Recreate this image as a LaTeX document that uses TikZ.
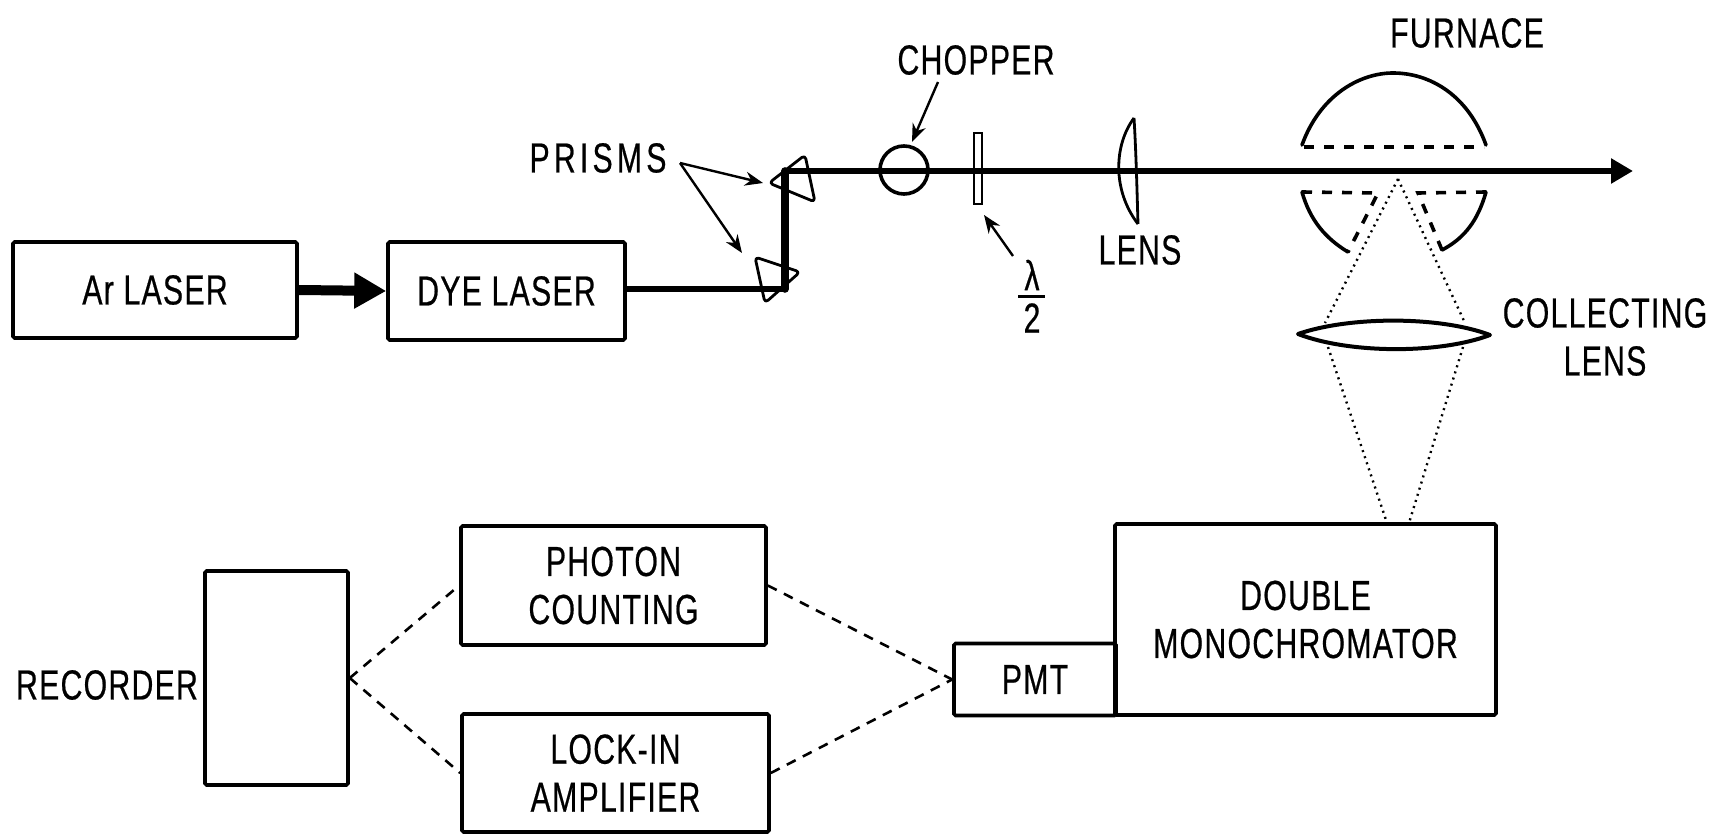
\documentclass[tikz,border=0pt]{standalone}
\usepackage{fontspec}
\setmainfont[FakeStretch=0.72,LetterSpace=3,FakeBold=0.5]{Liberation Sans}
\usetikzlibrary{arrows.meta}
\tikzset{
  px/.style={x=0.5pt,y=-0.5pt},
  boxn/.style={draw,line width=1.8pt,rounded corners=0.8pt,inner sep=0pt,align=center,font=\fontsize{21}{24}\selectfont},
  lab/.style={inner sep=0pt,align=center,font=\fontsize{21}{24}\selectfont},
  beam/.style={line width=3pt},
  pointer/.style={line width=1.2pt,-{Stealth[length=9pt,width=7pt]}},
  optic/.style={line width=1.4pt,line join=round},
  oven/.style={line width=1.8pt,line cap=round},
  ovendash/.style={line width=1.8pt,dash pattern=on 5pt off 5pt},
  ray/.style={line width=1.2pt,dash pattern=on 1pt off 2.2pt},
  wire/.style={line width=1.3pt,dash pattern=on 5pt off 4pt}
}
\begin{document}
\begin{tikzpicture}[px]
\useasboundingbox (0,0) rectangle (1710,834);
% boxes
\node[boxn,minimum width=142pt,minimum height=48pt] (ar) at (155,290) {Ar LASER};
\node[boxn,minimum width=118.5pt,minimum height=49pt] (dye) at (506.5,291) {DYE LASER};
\node[boxn,minimum width=71.5pt,minimum height=107pt] (rec) at (276.5,678) {};
\node[boxn,minimum width=152.5pt,minimum height=59.5pt] (photon) at (613.5,585.5) {PHOTON\\COUNTING};
\node[boxn,minimum width=153.5pt,minimum height=59pt] (lock) at (615.5,773) {LOCK-IN\\AMPLIFIER};
\node[boxn,minimum width=81pt,minimum height=36pt] (pmt) at (1035,679.5) {PMT};
\node[boxn,minimum width=190.5pt,minimum height=95.5pt] (mono) at (1305.5,619.5) {DOUBLE\\MONOCHROMATOR};
% labels
\node[lab] (reclab) at (107,685) {RECORDER};
\node[lab] (prisms) at (598,158) {\addfontfeature{LetterSpace=10}PRISMS};
\node[lab] (chopper) at (976,60) {CHOPPER};
\node[lab] (furnace) at (1467,33) {FURNACE};
\node[lab] (lens) at (1140,250) {LENS};
\node[lab] (coll) at (1605,337) {COLLECTING\\LENS};
\node[lab] (lam) at (1032,275) {λ};
\node[lab] (two) at (1032,318) {2};
\coordinate (bar1) at (1018,297); \coordinate (bar2) at (1045,297);
\draw[line width=1.5pt] (bar1) -- (bar2);
% prisms
\coordinate (p1a) at (805,155); \coordinate (p1b) at (815,202); \coordinate (p1c) at (769,183);
\coordinate (p2a) at (755,257); \coordinate (p2b) at (800,272); \coordinate (p2c) at (765,303);
\draw[optic,rounded corners=2pt] (p1a) -- (p1b) -- (p1c) -- cycle;
\draw[optic,rounded corners=2pt] (p2a) -- (p2b) -- (p2c) -- cycle;
% beam
\coordinate (t1) at (785,289); \coordinate (t2) at (785,171); \coordinate (tip) at (1633,171);
\draw[line width=5pt,-{Triangle[length=16pt,width=17pt]}] (ar.east) -- (dye.west);
\coordinate (dyeout) at (625,289);
\draw[beam] (dyeout) -- (t1);
\draw[line width=3.8pt,line cap=round] (t1) -- (t2);
\draw[beam,-{Triangle[length=11pt,width=12pt]}] (t2) -- (tip);
% chopper, plate
\node[draw,circle,line width=1.8pt,minimum size=24pt,inner sep=0pt] (chop) at (904,170) {};
\node[draw,line width=1.1pt,minimum width=4pt,minimum height=35.5pt,inner sep=0pt,fill=white] (plate) at (978,168.5) {};
\coordinate (pl) at (974,171); \coordinate (pr) at (982,171);
\draw[beam] (pl) -- (pr);
% lens
\coordinate (l1) at (1134,118); \coordinate (l2) at (1138,224);
\draw[optic] (l1) .. controls (1114,145) and (1112,190) .. (l2);
\draw[optic] (l1) .. controls (1136,150) and (1137,190) .. (l2);
% pointers
\coordinate (pa) at (680,163); \coordinate (q1) at (763,183); \coordinate (q2) at (742,253);
\draw[pointer] (pa) -- (q1);
\draw[pointer] (pa) -- (q2);
\coordinate (ctail) at (938,82); \coordinate (chead) at (912,142);
\draw[pointer] (ctail) -- (chead);
\coordinate (lamtail) at (1013,256); \coordinate (lamhead) at (984,215);
\draw[pointer] (lamtail) -- (lamhead);
% furnace
\coordinate (ftl) at (1302,145); \coordinate (ftr) at (1486,145);
\coordinate (fdl) at (1304,147); \coordinate (fdr) at (1484,147);
\coordinate (fll) at (1302,192); \coordinate (flb) at (1348,252); \coordinate (fli) at (1378,193);
\coordinate (frr) at (1486,192); \coordinate (frb) at (1442,250); \coordinate (fri) at (1418,193);
\draw[oven] (ftl) .. controls (1320,95) and (1360,73) .. (1393,73) .. controls (1430,73) and (1468,95) .. (ftr);
\draw[ovendash] (fdl) -- (fdr);
\draw[oven] (fll) .. controls (1310,220) and (1325,238) .. (flb);
\draw[oven] (frr) .. controls (1478,220) and (1465,238) .. (frb);
\draw[ovendash] (fll) -- (fli) -- (flb);
\draw[ovendash] (frr) -- (fri) -- (frb);
% collecting lens
\coordinate (cl) at (1298,334); \coordinate (cr) at (1490,335);
\draw[line width=2pt,line join=round] (cl) .. controls (1350,316) and (1440,316) .. (cr) .. controls (1440,354) and (1350,354) .. cycle;
% rays
\coordinate (apex) at (1398,179);
\coordinate (rl) at (1325,323); \coordinate (rr) at (1465,323);
\coordinate (sl) at (1328,347); \coordinate (sr) at (1463,347);
\coordinate (ml) at (1387,523); \coordinate (mr) at (1409,523);
\draw[ray] (apex) -- (rl);
\draw[ray] (apex) -- (rr);
\draw[ray] (sl) -- (ml);
\draw[ray] (sr) -- (mr);
% signal wires
\draw[wire] (rec.east) -- (photon.west);
\draw[wire] (rec.east) -- (lock.west);
\draw[wire] (photon.east) -- (pmt.west);
\draw[wire] (lock.east) -- (pmt.west);
\end{tikzpicture}
\end{document}
